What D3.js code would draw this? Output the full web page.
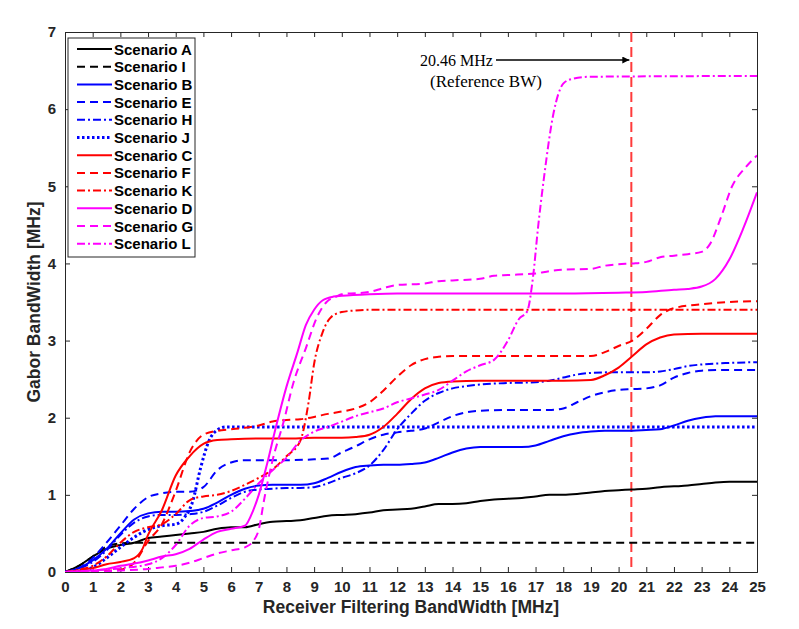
<!DOCTYPE html>
<html><head><meta charset="utf-8">
<script src="https://cdn.jsdelivr.net/npm/d3@7"></script>
<style>body{margin:0;background:#fff}svg{display:block}</style>
</head><body>
<svg id="chart" width="799" height="629"></svg>
<script>
// ---- data ----
const xTicks = d3.range(0, 26, 1);
const yTicks = d3.range(0, 8, 1);
const scenarioNames = ["Scenario A","Scenario I","Scenario B","Scenario E","Scenario H","Scenario J","Scenario C","Scenario F","Scenario K","Scenario D","Scenario G","Scenario L"];
const scenarioColors = ["#000000","#000000","#0000ff","#0000ff","#0000ff","#0000ff","#ff0000","#ff0000","#ff0000","#ff00ff","#ff00ff","#ff00ff"];
const scenarioStyles = ["solid","dashed","solid","dashed","dashdot","dotted","solid","dashed","dashdot","solid","dashed","dashdot"];

const A_x = [0,0.5,1,1.5,2,2.5,3,3.5,4,4.5,5,5.5,6,6.5,7,7.5,8,8.5,9,9.5,10,10.5,11,11.5,12,12.5,13,13.5,14,14.5,15,15.5,16,16.5,17,17.5,18,18.5,19,19.5,20,20.5,21,21.5,22,22.5,23,23.5,24,25];
const A_y = [0,0.08,0.2,0.3,0.35,0.38,0.44,0.46,0.48,0.5,0.52,0.56,0.58,0.58,0.62,0.65,0.66,0.67,0.7,0.73,0.74,0.75,0.77,0.8,0.81,0.82,0.85,0.88,0.88,0.89,0.92,0.94,0.95,0.96,0.98,1.0,1.0,1.01,1.03,1.05,1.06,1.07,1.08,1.1,1.11,1.12,1.14,1.16,1.17,1.17];
const I_x = [0,0.5,1,1.5,2,2.5,25];
const I_y = [0,0.08,0.2,0.33,0.37,0.38,0.38];
const B_x = [0,0.5,1,1.5,2,2.5,3,3.5,4,4.5,5,5.5,6,6.5,7,7.5,8,8.5,9,9.5,10,10.5,11,11.5,12,12.5,13,13.5,14,14.5,15,15.5,16,16.5,17,17.5,18,18.5,19,19.5,20,20.5,21,21.5,22,22.5,23,23.5,24,25];
const B_y = [0,0.05,0.15,0.3,0.5,0.68,0.76,0.78,0.78,0.79,0.82,0.9,1.0,1.08,1.12,1.13,1.13,1.13,1.15,1.22,1.3,1.36,1.38,1.39,1.39,1.4,1.42,1.48,1.55,1.6,1.62,1.62,1.62,1.62,1.64,1.7,1.76,1.8,1.82,1.83,1.83,1.83,1.84,1.85,1.9,1.96,2.0,2.02,2.02,2.02];
const E_x = [0,0.5,1,1.5,2,2.5,3,3.5,4,4.5,5,5.5,6,6.5,7,8,9,9.5,10,10.5,11,11.5,12,12.5,13,13.5,14,14.5,15,16,17,17.5,18,18.5,19,19.5,20,20.5,21,21.5,22,22.5,23,24,25];
const E_y = [0,0.05,0.18,0.38,0.6,0.82,0.97,1.02,1.04,1.04,1.1,1.32,1.42,1.45,1.45,1.45,1.46,1.47,1.55,1.63,1.72,1.78,1.81,1.83,1.86,1.94,2.02,2.07,2.09,2.1,2.1,2.1,2.12,2.2,2.28,2.33,2.36,2.37,2.38,2.42,2.52,2.58,2.61,2.62,2.62];
const H_x = [0,0.5,1,1.5,2,2.5,3,3.5,4,4.5,5,5.5,6,6.5,7,7.5,8,8.5,9,9.5,10,10.5,11,11.5,12,12.5,13,13.5,14,14.5,15,16,17,17.5,18,18.5,19,20,21,21.5,22,22.5,23,24,25];
const H_y = [0,0.04,0.13,0.28,0.48,0.64,0.72,0.74,0.74,0.75,0.78,0.86,0.96,1.04,1.07,1.08,1.09,1.09,1.1,1.15,1.22,1.28,1.38,1.58,1.85,2.05,2.22,2.32,2.38,2.41,2.43,2.45,2.46,2.48,2.52,2.56,2.58,2.59,2.59,2.6,2.63,2.67,2.69,2.71,2.72];
const J_x = [0,0.5,1,1.5,2,2.5,3,3.5,4,4.3,4.6,4.9,5.2,5.5,5.8,25];
const J_y = [0,0.02,0.06,0.18,0.32,0.45,0.55,0.6,0.62,0.7,0.9,1.35,1.7,1.84,1.88,1.88];
const C_x = [0,0.5,1,1.5,2,2.5,2.8,3,3.5,4,4.5,5,5.5,6,7,8,9,10,10.5,11,11.5,12,12.5,13,13.5,14,15,16,17,18,19,19.5,20,20.5,21,21.5,22,23,25];
const C_y = [0,0.02,0.05,0.1,0.13,0.18,0.3,0.48,0.8,1.25,1.5,1.66,1.71,1.72,1.73,1.73,1.74,1.74,1.75,1.78,1.88,2.05,2.24,2.38,2.45,2.47,2.48,2.48,2.48,2.48,2.49,2.55,2.65,2.8,2.95,3.04,3.08,3.09,3.09];
const F_x = [0,1,2,2.5,3,3.5,4,4.5,5,5.5,6,6.5,7,7.5,8,8.5,9,9.5,10,10.5,11,11.5,12,12.5,13,13.5,14,19,19.5,20,20.5,21,21.5,22,23,24,25];
const F_y = [0,0.01,0.03,0.12,0.4,0.62,1.05,1.55,1.78,1.83,1.85,1.87,1.9,1.95,1.97,1.98,2.01,2.05,2.08,2.12,2.2,2.35,2.53,2.68,2.76,2.79,2.8,2.8,2.85,2.93,3.0,3.15,3.33,3.42,3.47,3.5,3.51];
const K_x = [0,0.5,1,1.5,2,2.5,3,3.5,4,4.5,5,5.5,6,6.5,7,7.5,8,8.5,8.8,9,9.3,9.6,10,10.5,11,25];
const K_y = [0,0.03,0.08,0.2,0.38,0.52,0.58,0.62,0.75,0.93,0.98,1.0,1.05,1.13,1.22,1.33,1.5,1.7,2.2,2.7,3.1,3.3,3.37,3.39,3.4,3.4];
const D_x = [0,0.5,1,1.5,2,2.5,3,3.5,4,4.5,5,5.5,6,6.5,6.8,7,7.3,7.6,8,8.4,8.7,9,9.3,9.7,10,11,12,14,16,18,20,21,22,22.5,23,23.5,24,24.5,25];
const D_y = [0,0.01,0.02,0.04,0.08,0.11,0.15,0.2,0.23,0.3,0.42,0.52,0.56,0.6,0.8,1.0,1.4,1.85,2.4,2.85,3.2,3.4,3.52,3.57,3.58,3.6,3.61,3.61,3.61,3.61,3.62,3.63,3.66,3.67,3.7,3.8,4.05,4.45,4.92];
const G_x = [0,1,1.5,2,3,3.5,4,4.5,5,5.5,6,6.5,6.8,7,7.2,7.5,7.9,8.25,8.7,9.1,9.45,9.8,10,11,11.5,12,13,13.5,14,15,15.5,16,17,17.5,18,19,19.5,20,20.5,21,21.5,22,22.5,23,23.3,23.7,24.1,24.6,25];
const G_y = [0,0,0.01,0.02,0.04,0.06,0.08,0.12,0.18,0.24,0.28,0.32,0.4,0.55,0.95,1.45,1.95,2.45,2.9,3.3,3.5,3.57,3.6,3.63,3.68,3.72,3.74,3.77,3.78,3.8,3.84,3.85,3.87,3.9,3.92,3.93,3.97,3.99,4.0,4.02,4.08,4.1,4.12,4.15,4.25,4.6,5.0,5.25,5.4];
const L_x = [0,1,2,3,3.5,4,4.5,5,5.5,6,6.5,7,7.5,8,8.5,9,9.5,10,10.5,11,11.5,12,12.5,13,13.5,14,14.5,15,15.5,16,16.4,16.7,16.9,17.1,17.3,17.65,18,18.3,19,25];
const L_y = [0,0.02,0.05,0.1,0.18,0.35,0.6,0.7,0.72,0.78,0.95,1.15,1.32,1.48,1.7,1.82,1.88,1.95,2.02,2.07,2.12,2.2,2.25,2.3,2.36,2.48,2.6,2.68,2.75,3.0,3.28,3.38,3.8,4.5,5.1,5.95,6.33,6.39,6.42,6.43];
const seriesX = [A_x,I_x,B_x,E_x,H_x,J_x,C_x,F_x,K_x,D_x,G_x,L_x];
const seriesY = [A_y,I_y,B_y,E_y,H_y,J_y,C_y,F_y,K_y,D_y,G_y,L_y];
const refBW = 20.46;
const refLabel1 = "20.46 MHz";
const refLabel2 = "(Reference BW)";

// ---- drawing ----
const svg = d3.select("#chart");
const L = 65, R = 757, T = 32, B = 572;
const x = d3.scaleLinear().domain([0,25]).range([L,R]);
const y = d3.scaleLinear().domain([0,7]).range([B,T]);
const axisColor = "#262626";
const sans = "'Liberation Sans', Arial, sans-serif";
const tickFont = `bold 15px ${sans}`;

const dashes = {solid:null, dashed:"8,5", dashdot:"8,3,2,3", dotted:"2.5,2.5"};

// axes box and ticks
const gx = svg.append("g").attr("transform",`translate(0,${B})`)
  .call(d3.axisBottom(x).tickValues(xTicks).tickSize(-5).tickPadding(9).tickFormat(d3.format("d")));
const gxTop = svg.append("g").attr("transform",`translate(0,${T})`)
  .call(d3.axisTop(x).tickValues(xTicks).tickSize(-5).tickFormat(""));
const gy = svg.append("g").attr("transform",`translate(${L},0)`)
  .call(d3.axisLeft(y).tickValues(yTicks).tickSize(-5).tickPadding(9).tickFormat(d3.format("d")));
const gyR = svg.append("g").attr("transform",`translate(${R},0)`)
  .call(d3.axisRight(y).tickValues(yTicks).tickSize(-5).tickFormat(""));
[gx,gxTop,gy,gyR].forEach(g=>{
  g.select(".domain").attr("stroke",axisColor).attr("stroke-width",1);
  g.selectAll(".tick line").attr("stroke",axisColor);
  g.selectAll("text").style("font",tickFont).attr("fill","#262626");
});

// clip
svg.append("clipPath").attr("id","clip").append("rect").attr("x",L).attr("y",T).attr("width",R-L).attr("height",B-T);

const line = d3.line().x(d=>x(d[0])).y(d=>y(d[1])).curve(d3.curveMonotoneX);
const plot = svg.append("g").attr("clip-path","url(#clip)");

// reference line
plot.append("line").attr("x1",x(refBW)).attr("x2",x(refBW)).attr("y1",T).attr("y2",B)
  .attr("stroke","#ff3b3b").attr("stroke-width",2).attr("stroke-dasharray","10,5");

seriesX.forEach((xs,i)=>{
  const pts = xs.map((v,j)=>[v, seriesY[i][j]]);
  plot.append("path").attr("d",line(pts)).attr("fill","none")
    .attr("stroke",scenarioColors[i])
    .attr("stroke-width",scenarioStyles[i]==="dotted"?3:2)
    .attr("stroke-dasharray",dashes[scenarioStyles[i]]);
});

// annotation
const serif = "'Liberation Serif','Times New Roman',serif";
svg.append("text").attr("x",420).attr("y",66).style("font",`16px ${serif}`).attr("fill","#000").text(refLabel1);
svg.append("text").attr("x",430).attr("y",87).style("font",`17px ${serif}`).attr("fill","#000").text(refLabel2);
svg.append("defs").append("marker").attr("id","arr").attr("viewBox","0 0 10 10").attr("refX",10).attr("refY",5)
  .attr("markerWidth",10).attr("markerHeight",7).attr("markerUnits","userSpaceOnUse").attr("orient","auto")
  .append("path").attr("d","M0,0L10,5L0,10Z").attr("fill","#000");
svg.append("line").attr("x1",496).attr("x2",x(refBW)-2).attr("y1",60).attr("y2",60)
  .attr("stroke","#000").attr("stroke-width",1.5).attr("marker-end","url(#arr)");

// legend
const lg = svg.append("g");
lg.append("rect").attr("x",68).attr("y",38).attr("width",127).attr("height",219)
  .attr("fill","#fff").attr("stroke","#262626").attr("stroke-width",1);
scenarioNames.forEach((n,i)=>{
  const yy = 49 + i*17.7;
  lg.append("line").attr("x1",77).attr("x2",112).attr("y1",yy).attr("y2",yy)
    .attr("stroke",scenarioColors[i]).attr("stroke-width",scenarioStyles[i]==="dotted"?3:2)
    .attr("stroke-dasharray",dashes[scenarioStyles[i]]);
  lg.append("text").attr("x",114).attr("y",yy+5.5).style("font",`bold 15px ${sans}`)
    .attr("fill","#000").text(n);
});

// axis titles
svg.append("text").attr("x",(L+R)/2).attr("y",613).attr("text-anchor","middle")
  .style("font",`bold 17.5px ${sans}`).attr("fill","#262626")
  .text("Receiver Filtering BandWidth [MHz]");
svg.append("text").attr("transform",`translate(40,${(T+B)/2}) rotate(-90)`).attr("text-anchor","middle")
  .style("font",`bold 17.5px ${sans}`).attr("fill","#262626")
  .text("Gabor BandWidth [MHz]");
</script>
</body></html>
